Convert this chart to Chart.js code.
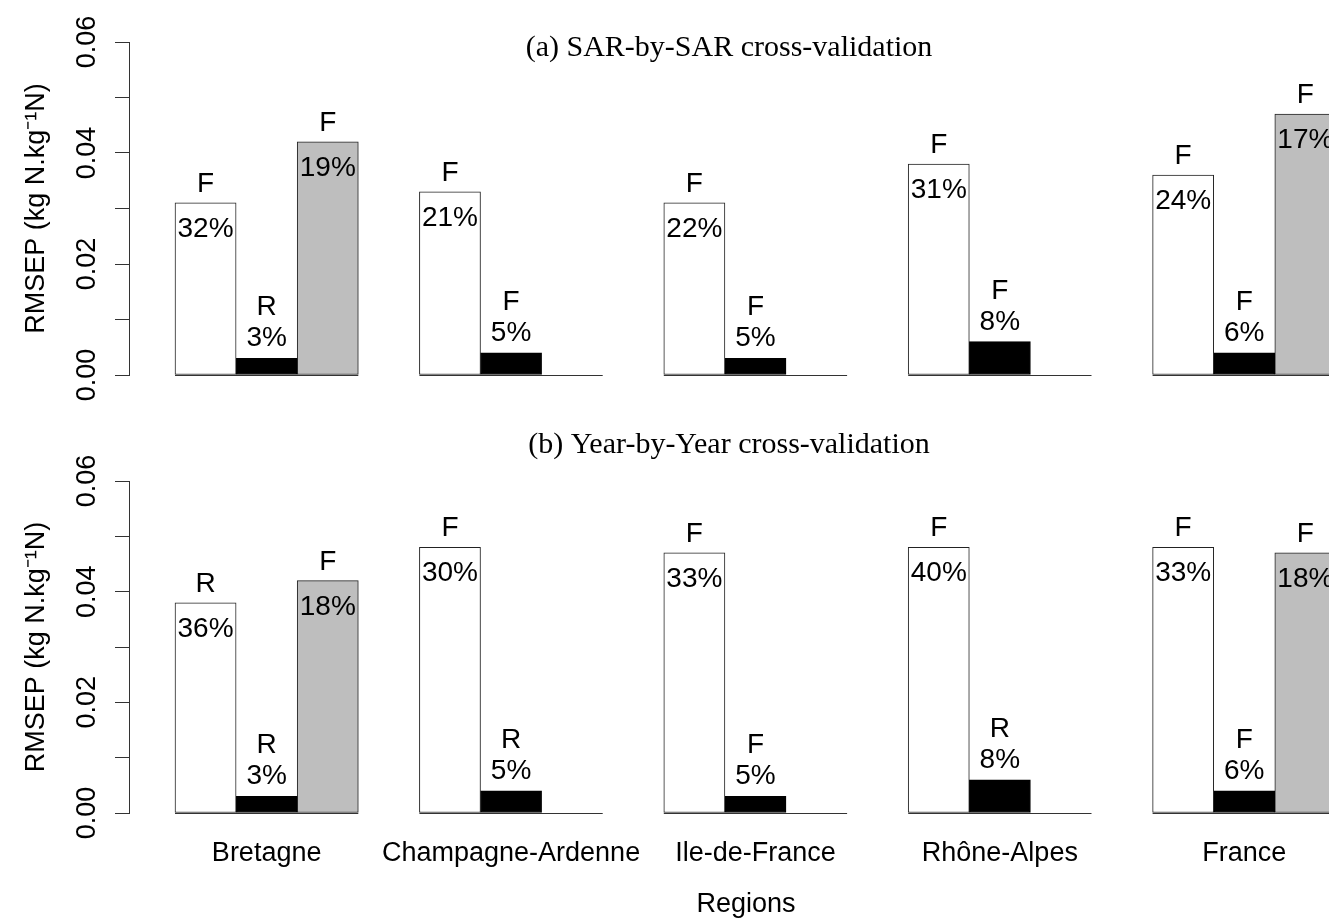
<!DOCTYPE html>
<html>
<head>
<meta charset="utf-8">
<script src="https://cdn.jsdelivr.net/npm/chart.js@4/dist/chart.umd.min.js"></script>
<style>
  html, body { margin: 0; padding: 0; background: #fff; overflow: hidden; }
  #wrap { position: relative; width: 1329px; height: 920px; }
  canvas { position: absolute; left: 0; display: block; }
  #panelA { top: 0; }
  #panelB { top: 420px; }
</style>
</head>
<body>
<div id="wrap">
  <canvas id="panelA" width="1329" height="420"></canvas>
  <canvas id="panelB" width="1329" height="500"></canvas>
</div>
<script>
// Regions along the x axis
const regions = ['Bretagne', 'Champagne-Ardenne', 'Ile-de-France', 'Rhône-Alpes', 'France'];

// y-axis tick values that carry a printed label
const yLabelled = [0.00, 0.02, 0.04, 0.06];

// (a) SAR-by-SAR cross-validation: RMSEP per region for the three bar kinds
const sarWhite = [0.031, 0.033, 0.031, 0.038, 0.036];
const sarBlack = [0.003, 0.004, 0.003, 0.006, 0.004];
const sarGrey  = [0.042, null, null, null, 0.047];
const sarWhitePct = ['32%', '21%', '22%', '31%', '24%'];
const sarBlackPct = ['3%', '5%', '5%', '8%', '6%'];
const sarGreyPct  = ['19%', null, null, null, '17%'];
const sarWhiteTag = ['F', 'F', 'F', 'F', 'F'];
const sarBlackTag = ['R', 'F', 'F', 'F', 'F'];
const sarGreyTag  = ['F', null, null, null, 'F'];

// (b) Year-by-Year cross-validation
const yearWhite = [0.038, 0.048, 0.047, 0.048, 0.048];
const yearBlack = [0.003, 0.004, 0.003, 0.006, 0.004];
const yearGrey  = [0.042, null, null, null, 0.047];
const yearWhitePct = ['36%', '30%', '33%', '40%', '33%'];
const yearBlackPct = ['3%', '5%', '5%', '8%', '6%'];
const yearGreyPct  = ['18%', null, null, null, '18%'];
const yearWhiteTag = ['R', 'F', 'F', 'F', 'F'];
const yearBlackTag = ['R', 'R', 'F', 'R', 'F'];
const yearGreyTag  = ['F', null, null, null, 'F'];

// ---- layout / style -------------------------------------------------------
const SANS = '"Liberation Sans", Arial, sans-serif';
const SERIF = '"Liberation Serif", "Times New Roman", serif';
const SLOTS = 4;            // three bar slots per region plus one empty gap slot
const X_MIN = -1.253;
const X_MAX = 18.387;
const AXIS_COLOR = '#333';

function series(values, tags, pcts, slot, fill, edge, labelMode) {
  const pts = [];
  values.forEach((v, g) => {
    if (v != null) pts.push({ x: g * SLOTS + slot, y: v, tag: tags[g], pct: pcts[g] });
  });
  return {
    data: pts,
    backgroundColor: fill,
    borderColor: edge,
    borderWidth: 1,
    borderSkipped: false,
    grouped: false,
    categoryPercentage: 1,
    barPercentage: 1,
    labelMode: labelMode
  };
}

// Per-region baseline under the three bar slots
const groupBaselines = {
  id: 'groupBaselines',
  afterDatasetsDraw(chart) {
    const { ctx } = chart;
    const xs = chart.scales.x, ys = chart.scales.y;
    const y0 = Math.round(ys.getPixelForValue(0)) + 0.5;
    ctx.save();
    ctx.strokeStyle = AXIS_COLOR;
    ctx.lineWidth = 1;
    ctx.beginPath();
    regions.forEach((r, g) => {
      const l = xs.getPixelForValue(g * SLOTS - 0.5);
      const rr = xs.getPixelForValue(g * SLOTS + 2.5);
      ctx.moveTo(l, y0);
      ctx.lineTo(rr, y0);
    });
    ctx.stroke();
    ctx.restore();
  }
};

// Letter and percentage written at each bar
const barLabels = {
  id: 'barLabels',
  afterDatasetsDraw(chart) {
    const { ctx } = chart;
    ctx.save();
    ctx.font = '28px ' + SANS;
    ctx.fillStyle = '#000';
    ctx.textAlign = 'center';
    ctx.textBaseline = 'alphabetic';
    const half = 10; // half the cap height, to centre glyphs on a y
    chart.data.datasets.forEach((ds, di) => {
      const meta = chart.getDatasetMeta(di);
      meta.data.forEach((bar, i) => {
        const d = ds.data[i];
        const { x, y } = bar.getProps(['x', 'y'], true);
        if (ds.labelMode === 'above') {
          ctx.fillText(d.pct, x, y - 22 + half);
          ctx.fillText(d.tag, x, y - 53 + half);
        } else {
          ctx.fillText(d.tag, x, y - 21 + half);
          ctx.fillText(d.pct, x, y + 24 + half);
        }
      });
    });
    ctx.restore();
  }
};

// Free text: panel headings and the x-axis name
const panelText = {
  id: 'panelText',
  afterDraw(chart, args, opts) {
    const { ctx, chartArea } = chart;
    const cx = (chartArea.left + chartArea.right) / 2;
    ctx.save();
    ctx.fillStyle = '#000';
    ctx.textAlign = 'center';
    ctx.textBaseline = 'middle';
    (opts.items || []).forEach(it => {
      ctx.font = it.font;
      const base = it.from === 'bottom' ? chartArea.bottom : chartArea.top;
      ctx.fillText(it.text, cx + (it.dx || 0), base + it.dy);
    });
    ctx.restore();
  }
};

function yScale() {
  return {
    min: 0,
    max: 0.06,
    border: { display: true, color: AXIS_COLOR, width: 1 },
    grid: { display: true, drawOnChartArea: false, drawTicks: true, tickLength: 14, color: AXIS_COLOR, lineWidth: 1 },
    ticks: {
      stepSize: 0.01,
      autoSkip: false,
      minRotation: 90,
      maxRotation: 90,
      crossAlign: 'center',
      padding: 1,
      color: '#000',
      font: { family: SANS, size: 27 },
      callback: (value) => {
        const v = Math.round(value * 100) / 100;
        return yLabelled.includes(v) ? v.toFixed(2) : '';
      }
    },
    title: {
      display: true,
      text: 'RMSEP (kg N.kg\u207B\u00B9N)',
      color: '#000',
      font: { family: SANS, size: 27 },
      padding: { top: 20, bottom: 0 }
    },
    afterFit: (s) => { s.width = 129; }
  };
}

function xScale(showLabels) {
  return {
    type: 'linear',
    bounds: 'data',
    offset: false,
    min: X_MIN,
    max: X_MAX,
    display: showLabels,
    border: { display: false },
    grid: { display: false, drawTicks: false, offset: false },
    ticks: {
      autoSkip: false,
      maxRotation: 0,
      padding: 24,
      color: '#000',
      font: { family: SANS, size: 27 },
      callback: (value, index) => regions[index]
    },
    afterBuildTicks: (s) => { s.ticks = regions.map((r, g) => ({ value: g * SLOTS + 1 })); },
    afterFit: (s) => { if (showLabels) s.height = 107; }
  };
}

function makeChart(id, white, black, grey, tags, pcts, padding, items, showX) {
  return new Chart(document.getElementById(id), {
    type: 'bar',
    data: {
      datasets: [
        series(white, tags[0], pcts[0], 0, '#ffffff', '#222', 'inside'),
        series(black, tags[1], pcts[1], 1, '#000000', '#000', 'above'),
        series(grey, tags[2], pcts[2], 2, '#bebebe', '#222', 'inside')
      ]
    },
    options: {
      responsive: false,
      animation: false,
      devicePixelRatio: 1,
      layout: { padding: padding },
      scales: { x: xScale(showX), y: yScale() },
      plugins: {
        legend: { display: false },
        title: { display: false },
        tooltip: { enabled: false },
        panelText: { items: items }
      }
    },
    plugins: [groupBaselines, barLabels, panelText]
  });
}

makeChart('panelA', sarWhite, sarBlack, sarGrey,
  [sarWhiteTag, sarBlackTag, sarGreyTag],
  [sarWhitePct, sarBlackPct, sarGreyPct],
  { top: 42, bottom: 45, left: 0, right: 0 },
  [{ text: '(a) SAR-by-SAR cross-validation', font: '30px ' + SERIF, dy: 6 }],
  false);

makeChart('panelB', yearWhite, yearBlack, yearGrey,
  [yearWhiteTag, yearBlackTag, yearGreyTag],
  [yearWhitePct, yearBlackPct, yearGreyPct],
  { top: 61, bottom: 0, left: 0, right: 0 },
  [
    { text: '(b) Year-by-Year cross-validation', font: '30px ' + SERIF, dy: -36 },
    { text: 'Regions', font: '27px ' + SANS, dy: 92, dx: 17, from: 'bottom' }
  ],
  true);
</script>
</body>
</html>
